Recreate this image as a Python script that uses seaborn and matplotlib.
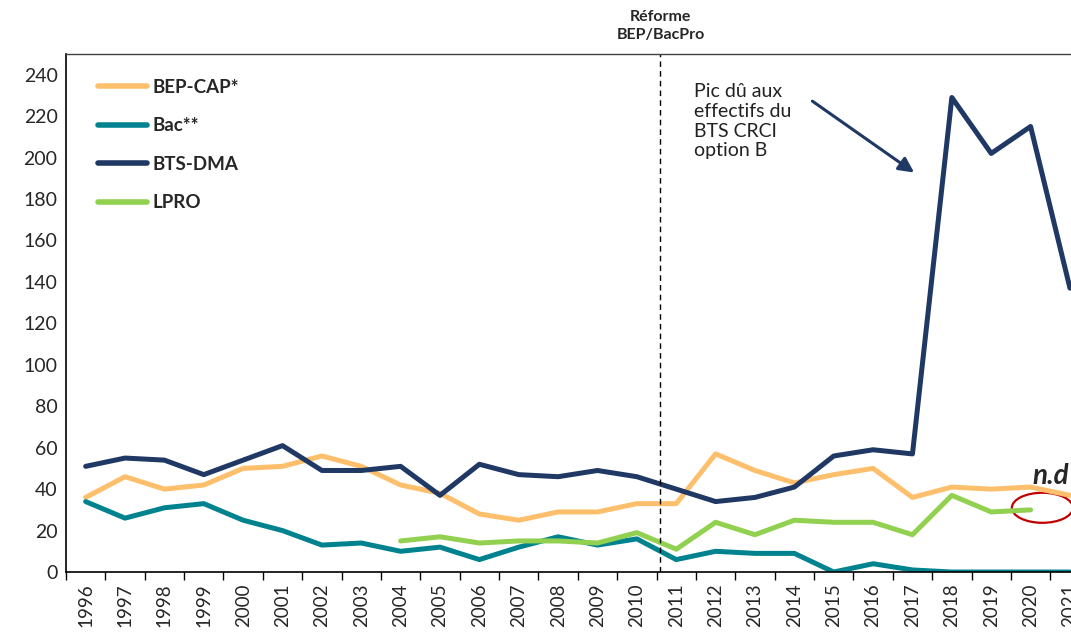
import numpy as np
import pandas as pd
import matplotlib.pyplot as plt
import seaborn as sns
from matplotlib.patches import Ellipse
from matplotlib.lines import Line2D

# %% Données
years = list(range(1996, 2022))
bep_cap = [36, 46, 40, 42, 50, 51, 56, 51, 42, 38, 28, 25, 29, 29, 33, 33,
           57, 49, 43, 47, 50, 36, 41, 40, 41, 37]
bac = [34, 26, 31, 33, 25, 20, 13, 14, 10, 12, 6, 12, 17, 13, 16, 6,
       10, 9, 9, 0, 4, 1, 0, 0, 0, 0]
bts_dma = [51, 55, 54, 47, 54, 61, 49, 49, 51, 37, 52, 47, 46, 49, 46, 40,
           34, 36, 41, 56, 59, 57, 229, 202, 215, 137]
lpro = [np.nan] * 8 + [15, 17, 14, 15, 15, 14, 19, 11, 24, 18, 25, 24, 24,
                       18, 37, 29, 30, np.nan]

series_names = ['BEP-CAP*', 'Bac**', 'BTS-DMA', 'LPRO']
colors = ['#FDBF6B', '#00838F', '#1F3864', '#92D050']

df = pd.DataFrame({'pos': np.arange(len(years)), 'BEP-CAP*': bep_cap,
                   'Bac**': bac, 'BTS-DMA': bts_dma, 'LPRO': lpro})
df_long = df.melt(id_vars='pos', var_name='serie', value_name='effectif').dropna()

# %% Graphique
sns.set_style('white')
plt.rcParams['font.family'] = ['Lato', 'DejaVu Sans']

fig = plt.figure(figsize=(10.71, 6.32), dpi=100)
ax = fig.add_axes([0.0616, 0.0949, 0.9400, 0.8197])

sns.lineplot(data=df_long, x='pos', y='effectif', hue='serie',
             hue_order=series_names, palette=colors, linewidth=3.6,
             legend=False, ax=ax)

ax.set_yticks(range(0, 241, 20))
ax.tick_params(axis='y', labelsize=14, length=0, pad=6)
ax.set_xticks(range(len(years)))
ax.set_xticklabels([str(y) for y in years], rotation=90, fontsize=13.5)
ax.set_xticks(np.arange(-0.5, len(years) - 1, 1), minor=True)
ax.tick_params(axis='x', which='major', length=0, pad=8)
ax.tick_params(axis='x', which='minor', length=6, width=1, color='black',
               direction='out', bottom=True)
# limites après les ticks (set_xticks élargit la vue)
ax.set_xlim(-0.5, 25.07)
ax.set_ylim(0, 250)
ax.set_xlabel('')
ax.set_ylabel('')

for side in ['left', 'bottom']:
    ax.spines[side].set_color('black')
    ax.spines[side].set_linewidth(1.2)
ax.spines['top'].set_color('#404040')
ax.spines['top'].set_linewidth(1)
ax.spines['right'].set_visible(False)

# Réforme
ax.axvline(14.6, color='black', linestyle=(0, (4, 3)), linewidth=1)
ax.text(14.6, 256, 'Réforme\nBEP/BacPro', ha='center', va='bottom',
        fontsize=11.5, fontweight='bold', linespacing=1.3)

# Annotation pic
ax.annotate('', xy=(21.1, 192), xytext=(18.4, 228),
            arrowprops=dict(arrowstyle='-|>,head_length=0.9,head_width=0.45',
                            color='#1F3864', linewidth=2.2))
ax.text(15.45, 236, 'Pic dû aux\neffectifs du\nBTS CRCI\noption B',
        ha='left', va='top', fontsize=14, color='#222222', linespacing=1.2)

# n.d
ax.text(24.5, 40, 'n.d', ha='center', va='bottom', fontsize=20,
        fontweight='bold', fontstyle='italic')
ax.add_patch(Ellipse((24.3, 31), 1.55, 14.5, fill=False,
                     edgecolor='#C00000', linewidth=1.6))

# Légende
handles = [Line2D([0], [0], color=c, linewidth=4, solid_capstyle='round')
           for c in colors]
ax.legend(handles, series_names, loc='upper left', bbox_to_anchor=(0.015, 0.985),
          frameon=False, handlelength=2.6, handletextpad=0.3,
          labelspacing=1.15, prop={'weight': 'bold', 'size': 13.5})

fig.savefig('out.png', dpi=100)
